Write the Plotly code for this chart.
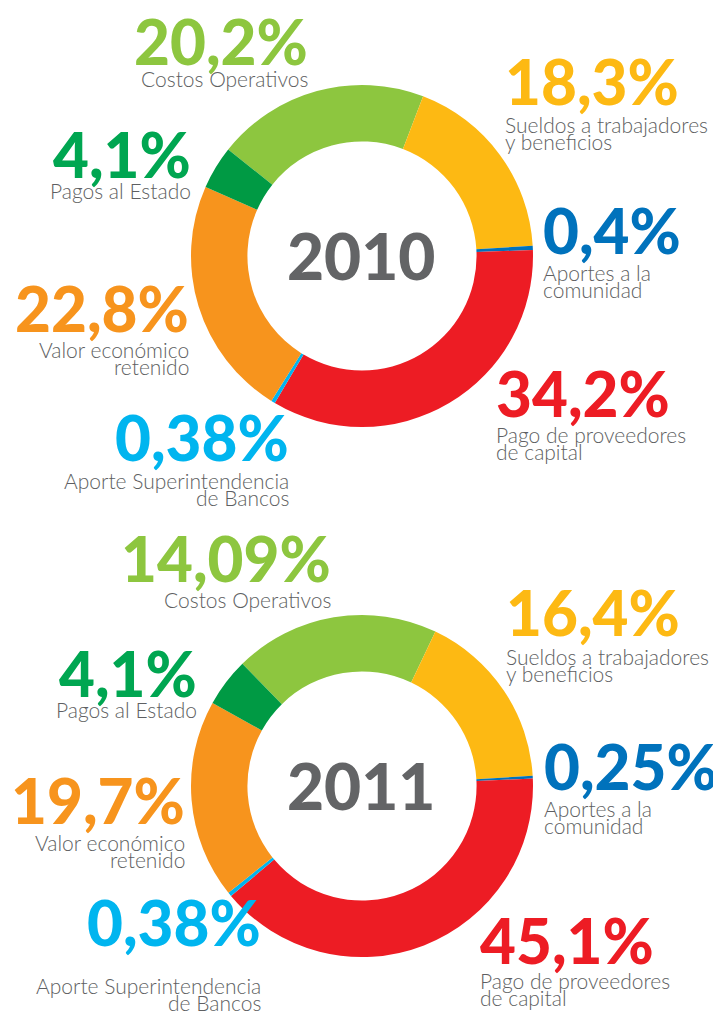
import plotly.graph_objects as go

# categories in drawing order (clockwise, starting with Costos Operativos)
categories = [
    "Costos Operativos",
    "Sueldos a trabajadores\ny beneficios",
    "Aportes a la\ncomunidad",
    "Pago de proveedores\nde capital",
    "Aporte Superintendencia\nde Bancos",
    "Valor económico\nretenido",
    "Pagos al Estado",
]

# 2010: printed percentages (the arcs follow them)
pct_text_2010 = ["20,2%", "18,3%", "0,4%", "34,2%", "0,38%", "22,8%", "4,1%"]
values_2010 = [20.2, 18.3, 0.4, 34.2, 0.38, 22.8, 4.1]

# 2011: printed percentages, and the shares as the arcs are actually drawn
pct_text_2011 = ["14,09%", "16,4%", "0,25%", "45,1%", "0,38%", "19,7%", "4,1%"]
values_2011 = [19.4, 17.0, 0.25, 39.6, 0.38, 18.8, 4.6]

years = ["2010", "2011"]

slice_colors = ["#8DC63F", "#FDB913", "#0072BC", "#ED1C24", "#00B5EF", "#F7941D", "#009A44"]
text_colors = ["#8DC63F", "#FDB913", "#0072BC", "#ED1C24", "#00B5EF", "#F7941D", "#00A651"]
GRAY = "#5E5F62"
FONT = "Lato, 'Open Sans', sans-serif"

# the page body keeps its default 8px margin, so the figure sits 8px in
OFF = 8
W, H = 721 - OFF, 1013 - OFF


def px(x):
    return (x - OFF) / W


def py(y):
    return 1 - (y - OFF) / H


# ring geometry (page pixels): centre x, centre y, radius, start angle
rings = [(362, 256, 171, -51.5), (362, 786, 171, -44.4)]

# label placement per year: (side, x, number centre y, first label line centre y)
label_pos = [
    [("right", 310, 41, 78), ("left", 503, 81, 125), ("left", 541, 230, 272.5),
     ("left", 494, 392.5, 434.5), ("right", 291, 437.5, 480), ("right", 191, 307.5, 350),
     ("right", 193, 154, 190)],
    [("right", 333, 557.5, 599.5), ("left", 504, 612, 656), ("left", 542, 766, 808),
     ("left", 478, 940, 980), ("right", 263, 922, 985), ("right", 187, 799.5, 842),
     ("right", 199, 672.5, 709.5)],
]
LINE_STEP = 17

fig = go.Figure()
annotations = []

for yi, (year, vals, pcts) in enumerate(zip(years, [values_2010, values_2011],
                                             [pct_text_2010, pct_text_2011])):
    cx, cy, r, rot = rings[yi]
    fig.add_trace(go.Pie(
        labels=[c.replace("\n", " ") for c in categories],
        values=vals,
        sort=False,
        direction="clockwise",
        rotation=rot,
        hole=0.67,
        marker=dict(colors=slice_colors, line=dict(width=0)),
        textinfo="none",
        hoverinfo="label+value",
        domain=dict(x=[px(cx - r), px(cx + r)], y=[py(cy + r), py(cy - r)]),
    ))
    annotations.append(dict(
        x=px(cx - 1), y=py(cy - 1), xref="paper", yref="paper", text=year,
        showarrow=False, xanchor="center", yanchor="middle",
        font=dict(family=FONT, size=64, color="#636466", weight=900),
    ))
    for ci, cat in enumerate(categories):
        side, x, ny, ly = label_pos[yi][ci]
        annotations.append(dict(
            x=px(x), y=py(ny), xref="paper", yref="paper", text=pcts[ci],
            showarrow=False, xanchor=side, yanchor="middle",
            font=dict(family=FONT, size=62, color=text_colors[ci], weight=900),
        ))
        for li, line in enumerate(cat.split("\n")):
            annotations.append(dict(
                x=px(x), y=py(ly + li * LINE_STEP), xref="paper", yref="paper", text=line,
                showarrow=False, xanchor=side, yanchor="middle",
                font=dict(family=FONT, size=21, color=GRAY, weight=300),
            ))

fig.update_layout(
    width=W, height=H,
    margin=dict(l=0, r=0, t=0, b=0),
    paper_bgcolor="white",
    plot_bgcolor="white",
    showlegend=False,
    annotations=annotations,
)

fig.write_html("out.html")
